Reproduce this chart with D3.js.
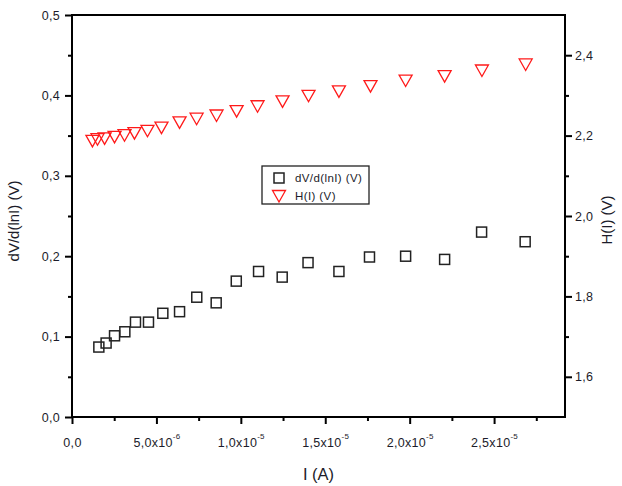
<!DOCTYPE html>
<html>
<head>
<meta charset="utf-8">
<script src="https://cdn.jsdelivr.net/npm/d3@7"></script>
<style>
    body { margin: 0; background: #fff; }
    svg { display: block; font-family: Arial, "Liberation Sans", sans-serif; }
</style>
</head>
<body>
<div id="chart"></div>
<script>
/*jslint browser: true*/

// current I (A) of each dV/d(lnI) point
var slopeCurrent = [1.59e-6, 2.02e-6, 2.52e-6, 3.13e-6, 3.76e-6, 4.53e-6, 5.38e-6, 6.37e-6, 7.39e-6, 8.54e-6,
    9.73e-6, 1.105e-5, 1.245e-5, 1.398e-5, 1.581e-5, 1.762e-5, 1.976e-5, 2.207e-5, 2.426e-5, 2.684e-5];
var slopeValues = [0.087, 0.092, 0.101, 0.106, 0.118, 0.118, 0.129, 0.131, 0.149, 0.142,
    0.169, 0.181, 0.174, 0.192, 0.181, 0.199, 0.200, 0.196, 0.230, 0.218];

// current I (A) of each H(I) point
var hCurrent = [1.21e-6, 1.51e-6, 1.93e-6, 2.52e-6, 3.11e-6, 3.70e-6, 4.47e-6, 5.30e-6, 6.37e-6, 7.38e-6,
    8.56e-6, 9.75e-6, 1.099e-5, 1.247e-5, 1.401e-5, 1.581e-5, 1.768e-5, 1.976e-5, 2.207e-5, 2.428e-5, 2.687e-5];
var hValues = [2.187, 2.191, 2.193, 2.197, 2.201, 2.206, 2.212, 2.220, 2.233, 2.242,
    2.250, 2.261, 2.273, 2.285, 2.299, 2.310, 2.323, 2.337, 2.348, 2.362, 2.377];

var xTicks = [0, 5e-6, 1e-5, 1.5e-5, 2e-5, 2.5e-5];
var xTickBase = ['0,0', '5,0x10', '1,0x10', '1,5x10', '2,0x10', '2,5x10'];
var xTickExp = ['', '-6', '-5', '-5', '-5', '-5'];
var xMinor = [2.5e-6, 7.5e-6, 1.25e-5, 1.75e-5, 2.25e-5, 2.75e-5];

var leftTicks = [0, 0.1, 0.2, 0.3, 0.4, 0.5];
var leftTickLabels = ['0,0', '0,1', '0,2', '0,3', '0,4', '0,5'];
var leftMinor = [0.05, 0.15, 0.25, 0.35, 0.45];

var rightTicks = [1.6, 1.8, 2.0, 2.2, 2.4];
var rightTickLabels = ['1,6', '1,8', '2,0', '2,2', '2,4'];
var rightMinor = [1.7, 1.9, 2.1, 2.3];

var legendLabels = ['dV/d(lnI) (V)', 'H(I) (V)'];

(function (d3) {
    'use strict';

    var width = 622, height = 486,
        margin = {top: 15, right: 57, bottom: 69, left: 72},
        textColor = '#1c1c2a',
        svg, plot, x, yLeft, yRight, w, h, tri, legend;

    w = width - margin.left - margin.right;
    h = height - margin.top - margin.bottom;

    x = d3.scaleLinear().domain([0, 2.92e-5]).range([0, w]);
    yLeft = d3.scaleLinear().domain([0, 0.5]).range([h, 0]);
    yRight = d3.scaleLinear().domain([1.5, 2.5]).range([h, 0]);

    svg = d3.select('#chart').append('svg')
        .attr('width', width)
        .attr('height', height);

    plot = svg.append('g')
        .attr('transform', 'translate(' + margin.left + ',' + margin.top + ')');

    function styleAxis(g) {
        g.select('.domain').remove();
        g.selectAll('.tick line').attr('stroke', '#000').attr('stroke-width', 2);
        g.selectAll('.tick text')
            .attr('fill', textColor)
            .style('font-size', '12.5px')
            .style('letter-spacing', '0.3px');
    }

    // bottom axis
    plot.append('g')
        .attr('transform', 'translate(0,' + h + ')')
        .call(d3.axisBottom(x).tickValues(xMinor).tickSize(4).tickFormat(''))
        .call(styleAxis);

    plot.append('g')
        .attr('transform', 'translate(0,' + h + ')')
        .call(d3.axisBottom(x).tickValues(xTicks).tickSize(7).tickFormat(''))
        .call(styleAxis)
        .selectAll('.tick')
        .append('text')
        .attr('y', 29.5)
        .attr('text-anchor', 'middle')
        .attr('fill', textColor)
        .style('font-size', '12.5px')
        .style('letter-spacing', '0.3px')
        .each(function (d, i) {
            var t = d3.select(this);
            t.append('tspan').text(xTickBase[i]);
            if (xTickExp[i]) {
                t.append('tspan')
                    .attr('dy', -8)
                    .style('font-size', '8px')
                    .text(xTickExp[i]);
            }
        });

    // left axis
    plot.append('g')
        .call(d3.axisLeft(yLeft).tickValues(leftMinor).tickSize(4).tickFormat(''))
        .call(styleAxis);

    plot.append('g')
        .call(d3.axisLeft(yLeft).tickValues(leftTicks).tickSize(7).tickPadding(5)
            .tickFormat(function (d, i) { return leftTickLabels[i]; }))
        .call(styleAxis);

    // right axis
    plot.append('g')
        .attr('transform', 'translate(' + w + ',0)')
        .call(d3.axisRight(yRight).tickValues(rightMinor).tickSize(4).tickFormat(''))
        .call(styleAxis);

    plot.append('g')
        .attr('transform', 'translate(' + w + ',0)')
        .call(d3.axisRight(yRight).tickValues(rightTicks).tickSize(7).tickPadding(3)
            .tickFormat(function (d, i) { return rightTickLabels[i]; }))
        .call(styleAxis);

    // frame
    plot.append('rect')
        .attr('x', 0)
        .attr('y', 0)
        .attr('width', w)
        .attr('height', h)
        .attr('fill', 'none')
        .attr('stroke', '#000')
        .attr('stroke-width', 2);

    // axis titles
    svg.append('text')
        .attr('x', margin.left + w / 2)
        .attr('y', 480)
        .attr('text-anchor', 'middle')
        .attr('fill', textColor)
        .style('font-size', '16.5px')
        .text('I (A)');

    svg.append('text')
        .attr('transform', 'translate(19,' + (margin.top + h / 2 + 5) + ') rotate(-90)')
        .attr('text-anchor', 'middle')
        .attr('fill', textColor)
        .style('font-size', '15px')
        .text('dV/d(lnI) (V)');

    svg.append('text')
        .attr('transform', 'translate(612,' + (margin.top + h / 2 + 4) + ') rotate(-90)')
        .attr('text-anchor', 'middle')
        .attr('fill', textColor)
        .style('font-size', '15px')
        .text('H(I) (V)');

    tri = 'M-6.5,-5.5L6.5,-5.5L0,6Z';

    // H(I) points
    plot.selectAll('.htri')
        .data(hValues)
        .enter()
        .append('path')
        .attr('class', 'htri')
        .attr('d', tri)
        .attr('transform', function (d, i) {
            return 'translate(' + x(hCurrent[i]) + ',' + yRight(d) + ')';
        })
        .attr('fill', 'none')
        .attr('stroke', '#ff1a1a')
        .attr('stroke-width', 1.3);

    // dV/d(lnI) points
    plot.selectAll('.sq')
        .data(slopeValues)
        .enter()
        .append('rect')
        .attr('class', 'sq')
        .attr('x', function (d, i) { return x(slopeCurrent[i]) - 5; })
        .attr('y', function (d) { return yLeft(d) - 5; })
        .attr('width', 10)
        .attr('height', 10)
        .attr('fill', 'none')
        .attr('stroke', '#222')
        .attr('stroke-width', 1.5);

    // legend
    legend = svg.append('g').attr('transform', 'translate(262,166)');
    legend.append('rect')
        .attr('width', 107)
        .attr('height', 38)
        .attr('fill', '#fff')
        .attr('stroke', '#222')
        .attr('stroke-width', 1.3);
    legend.append('rect')
        .attr('x', 12)
        .attr('y', 7)
        .attr('width', 10)
        .attr('height', 10)
        .attr('fill', 'none')
        .attr('stroke', '#222')
        .attr('stroke-width', 1.5);
    legend.append('path')
        .attr('d', tri)
        .attr('transform', 'translate(17,30)')
        .attr('fill', 'none')
        .attr('stroke', '#ff1a1a')
        .attr('stroke-width', 1.3);
    legend.selectAll('.ltext')
        .data(legendLabels)
        .enter()
        .append('text')
        .attr('class', 'ltext')
        .attr('x', 33)
        .attr('y', function (d, i) { return 16 + i * 18; })
        .attr('fill', textColor)
        .style('font-size', '11.5px')
        .style('letter-spacing', '0.4px')
        .text(function (d) { return d; });

}(window.d3));
</script>
</body>
</html>
